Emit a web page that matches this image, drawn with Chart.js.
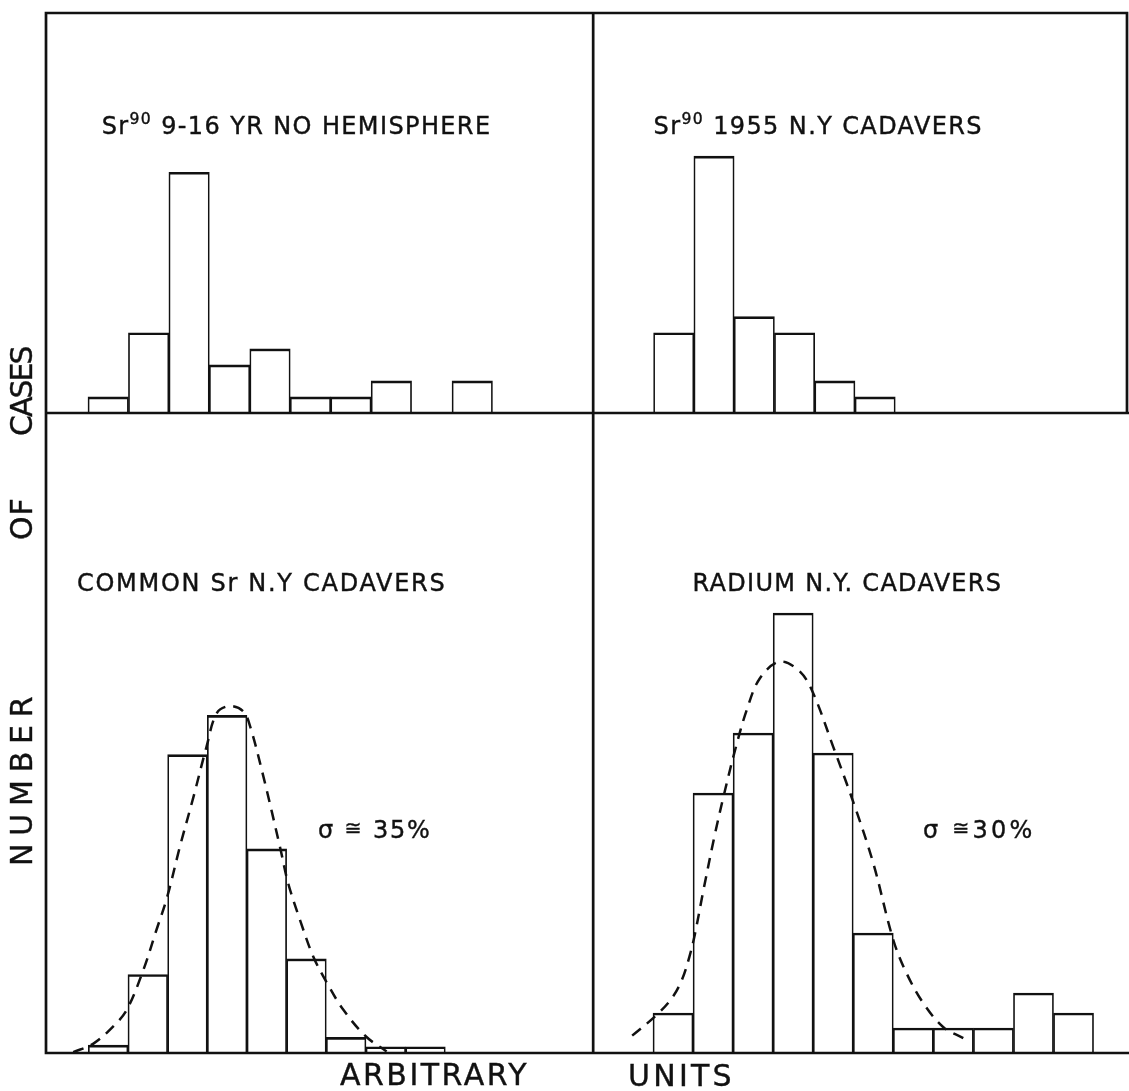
<!DOCTYPE html>
<html>
<head>
<meta charset="utf-8">
<script src="https://cdn.jsdelivr.net/npm/chart.js@4.4.1/dist/chart.umd.min.js"></script>
<style>
  html, body { margin: 0; padding: 0; background: #fff; }
  #wrap { position: relative; width: 1129px; height: 1091px; overflow: hidden; }
  #chart { position: absolute; left: 0; top: 0; }
  .lbl { position: absolute; font-family: "DejaVu Sans", sans-serif; color: #111;
         white-space: nowrap; line-height: 1; font-size: 24px; -webkit-text-stroke: 0.4px #111; }
  .big { font-size: 30px; }
  .lbl sup { font-size: 0.65em; vertical-align: 10px; line-height: 0; }
  .approx { font-size: 0.85em; vertical-align: 3px; }
  .vert { transform-origin: 0 0; transform: rotate(-90deg); }
</style>
</head>
<body>
<div id="wrap">
  <canvas id="chart" width="1129" height="1091"></canvas>

  <div class="lbl" style="left:101.7px; top:114.2px" data-w="390">Sr<sup>90</sup> 9-16 YR  NO HEMISPHERE</div>
  <div class="lbl" style="left:653.6px; top:114.2px" data-w="331">Sr<sup>90</sup> 1955  N.Y  CADAVERS</div>
  <div class="lbl" style="left:77px; top:570.7px" data-w="368">COMMON Sr N.Y CADAVERS</div>
  <div class="lbl" style="left:692.5px; top:570.7px" data-w="310">RADIUM  N.Y. CADAVERS</div>
  <div class="lbl" style="left:318px; top:817.5px" data-w="112">σ <span class="approx">≅</span> 35%</div>
  <div class="lbl" style="left:923px; top:818px" data-w="109">σ <span class="approx">≅</span>30%</div>

  <div class="lbl big" style="left:340px; top:1059.5px" data-w="187">ARBITRARY</div>
  <div class="lbl big" style="left:628px; top:1061px" data-w="104">UNITS</div>

  <div class="lbl big vert" style="left:6.5px; top:866px" data-w="170">NUMBER</div>
  <div class="lbl big vert" style="left:6.5px; top:540px" data-w="42">OF</div>
  <div class="lbl big vert" style="left:6.5px; top:436px" data-w="91">CASES</div>
</div>

<script>
// 直方图数据：每个面板的分组序号与例数
const tlBins  = [1, 2, 3, 4, 5, 6, 7, 8, 9, 10];
const tlCases = [1, 5, 15, 3, 4, 1, 1, 2, 0, 2];

const trBins  = [1, 2, 3, 4, 5, 6];
const trCases = [5, 16, 6, 5, 2, 1];

const blBins  = [1, 2, 3, 4, 5, 6, 7, 8, 9];
const blCases = [1, 10, 38, 43, 26, 12, 2, 0.8, 0.8];

const brBins  = [1, 2, 3, 4, 5, 6, 7, 8, 9, 10, 11];
const brCases = [2, 13, 16, 22, 15, 6, 1.25, 1.25, 1.25, 3, 2];

// 虚线拟合曲线（沿图上描点）
const blFitX = [0.12, 0.63, 1.13, 1.47, 1.89, 2.22, 2.49, 2.81, 3.15, 3.48, 3.74, 4.07,
                4.41, 4.58, 4.91, 5.33, 5.54, 5.84, 6.17, 6.52, 6.93, 7.50, 8.02];
const blFitY = [0.1, 1.2, 3.4, 5.5, 10.6, 15.7, 19.9, 26.3, 32.6, 39.0, 43.3, 44.2,
                43.5, 41.6, 35.3, 26.3, 21.6, 16.9, 12.3, 8.9, 5.5, 2.1, 0.2];

const brFitX = [-0.02, 0.59, 0.97, 1.22, 1.41, 1.55, 1.76, 2.05, 2.30, 2.55, 2.84, 3.17,
                3.67, 4.17, 4.50, 5.00, 5.54, 6.00, 6.50, 6.83, 7.25, 7.75, 8.25];
const brFitY = [0.87, 1.90, 2.74, 3.65, 4.82, 5.98, 8.15, 10.98, 13.15, 15.15, 17.15, 18.74,
                19.57, 19.07, 17.99, 15.31, 12.32, 9.49, 5.65, 3.99, 2.49, 1.29, 0.74];

// 右侧面板左边界（以右侧 x 轴的分组单位计）
const RIGHT_PANEL_EDGE = -1;

const INK = '#111';

function histogram(bins, cases, xAxisID, yAxisID) {
    return {
        type: 'bar',
        data: bins.map((b, i) => ({ x: b, y: cases[i] })),
        xAxisID, yAxisID,
        backgroundColor: '#fff',
        borderColor: INK,
        borderWidth: { top: 2.7, left: 1.7, right: 1.7, bottom: 0 },
        borderSkipped: 'start',
        barPercentage: 1,
        categoryPercentage: 1,
        grouped: false,
        order: 2
    };
}

function fitCurve(xs, ys, xAxisID, yAxisID) {
    return {
        type: 'line',
        data: xs.map((x, i) => ({ x, y: ys[i] })),
        xAxisID, yAxisID,
        borderColor: INK,
        borderWidth: 2.5,
        borderDash: [11, 8],
        pointRadius: 0,
        fill: false,
        tension: 0.35,
        order: 1
    };
}

// 每个面板都用一对隐藏的坐标轴，轴范围决定它在画布上的位置
function hiddenAxis(min, max) {
    return {
        type: 'linear', min, max, display: false,
        offset: false,
        bounds: 'data',
        grid: { display: false, offset: false },
        ticks: { maxTicksLimit: 2 }
    };
}

// 画外框和分隔线
const framePlugin = {
    id: 'frame',
    afterDraw(chart) {
        const { ctx, chartArea: a, scales } = chart;
        const mid = scales.yTop.getPixelForValue(0);
        const split = scales.xTR.getPixelForValue(RIGHT_PANEL_EDGE);
        ctx.save();
        ctx.strokeStyle = INK;
        ctx.lineWidth = 2.7;
        ctx.lineCap = 'square';
        ctx.beginPath();
        ctx.moveTo(a.left, a.bottom);
        ctx.lineTo(a.left, a.top);
        ctx.lineTo(a.right, a.top);
        ctx.lineTo(a.right, mid);
        ctx.moveTo(split, a.top);
        ctx.lineTo(split, a.bottom);
        ctx.moveTo(a.left, mid);
        ctx.lineTo(chart.width, mid);
        ctx.moveTo(a.left, a.bottom);
        ctx.lineTo(chart.width, a.bottom);
        ctx.stroke();
        ctx.restore();
    }
};

new Chart(document.getElementById('chart').getContext('2d'), {
    type: 'bar',
    data: {
        datasets: [
            histogram(tlBins, tlCases, 'xTL', 'yTop'),
            histogram(trBins, trCases, 'xTR', 'yTop'),
            histogram(blBins, blCases, 'xBL', 'yBL'),
            histogram(brBins, brCases, 'xBR', 'yBR'),
            fitCurve(blFitX, blFitY, 'xBL', 'yBL'),
            fitCurve(brFitX, brFitY, 'xBR', 'yBR')
        ]
    },
    options: {
        responsive: false,
        animation: false,
        devicePixelRatio: 1,
        layout: { padding: { left: 46, top: 13, right: 2, bottom: 38 } },
        scales: {
            xTL: hiddenAxis(-0.538, 26.187),
            xTR: hiddenAxis(-14.584, 12.253),
            xBL: hiddenAxis(-0.566, 26.684),
            xBR: hiddenAxis(-14.656, 12.335),
            yTop: hiddenAxis(-39.875, 24.922),
            yBL: hiddenAxis(0, 132.48),
            yBR: hiddenAxis(0, 52)
        },
        plugins: {
            legend: { display: false },
            tooltip: { enabled: false }
        }
    },
    plugins: [framePlugin]
});

// 调整字距，让每段文字的宽度和原图一致
document.querySelectorAll('.lbl[data-w]').forEach(el => {
    const target = parseFloat(el.dataset.w);
    const n = el.textContent.length;
    const natural = el.offsetWidth;
    if (n > 1) el.style.letterSpacing = ((target - natural) / (n - 1)).toFixed(2) + 'px';
});
</script>
</body>
</html>
